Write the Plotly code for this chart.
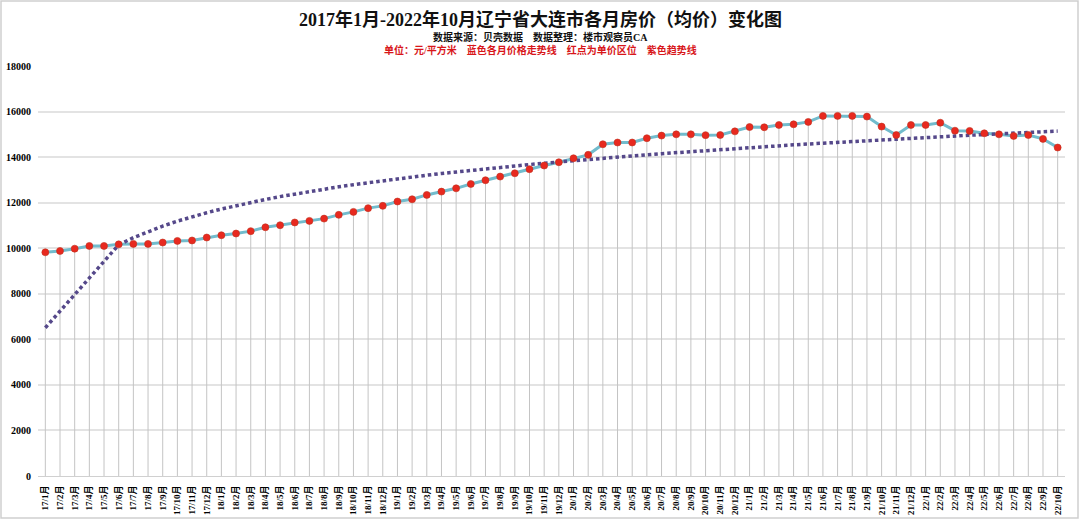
import numpy as np
import plotly.graph_objects as go

months = []
for y in range(17, 23):
    for m in range(1, 13):
        if y == 22 and m > 10:
            break
        months.append(f"{y}/{m}月")

prices = [
    9820, 9880, 9980, 10100, 10100, 10170, 10190, 10190, 10250, 10320,
    10340, 10470, 10570, 10645, 10750, 10920, 11010, 11130, 11200, 11300,
    11465, 11595, 11760, 11860, 12050, 12150, 12340, 12485, 12630, 12820,
    12985, 13145, 13290, 13470, 13630, 13775, 13950, 14100, 14565, 14640,
    14640, 14830, 14945, 15000, 15000, 14965, 14970, 15130, 15320, 15310,
    15410, 15440, 15545, 15810, 15810, 15810, 15780, 15340, 14970, 15410,
    15410, 15510, 15160, 15150, 15045, 15000, 14930, 14970, 14800, 14420,
]

y_ticks = [0, 2000, 4000, 6000, 8000, 10000, 12000, 14000, 16000, 18000]

idx = np.arange(len(prices))
# logarithmic trend line fitted from the data (as in the original spreadsheet);
# the spreadsheet draws it from a coarse first sample, then per category
b, a = np.polyfit(np.log(idx + 1), np.array(prices, dtype=float), 1)
trend_x = np.concatenate([[0], idx[5:]])
trend_y = a + b * np.log(trend_x + 1)

fig = go.Figure()

# drop lines from each point to the axis
fig.add_trace(go.Scatter(
    x=idx, y=prices, mode="markers",
    marker=dict(size=1, color="rgba(0,0,0,0)"),
    error_y=dict(type="data", symmetric=False, array=[0] * len(prices),
                 arrayminus=prices, color="#c4c4c4", thickness=1, width=0),
    hoverinfo="skip", showlegend=False,
))

fig.add_trace(go.Scatter(
    x=idx, y=prices, mode="lines",
    line=dict(color="#72bccd", width=3),
    showlegend=False,
))

fig.add_trace(go.Scatter(
    x=trend_x, y=trend_y, mode="lines",
    line=dict(color="#55488a", width=3.5, dash="3.5px,3px"),
    showlegend=False,
))

fig.add_trace(go.Scatter(
    x=idx, y=prices, mode="markers",
    marker=dict(size=7, color="#e8291f", line=dict(color="#c0301f", width=0.6)),
    showlegend=False,
))

L, R, T, B = 38, 15, 66, 44
W, H = 1080, 520
pw, ph = W - L - R, H - T - B

anns = [
    ("<b>2017年1月-2022年10月辽宁省大连市各月房价（均价）变化图</b>", 20, 18, "#111"),
    ("<b>数据来源：贝壳数据    数据整理：楼市观察员CA</b>", 37, 10, "#111"),
    ("<b>单位：元/平方米    蓝色各月价格走势线    红点为单价区位    紫色趋势线</b>", 50, 10, "#d8161a"),
]

fig.update_layout(
    width=W, height=H,
    margin=dict(l=L, r=R, t=T, b=B),
    paper_bgcolor="white", plot_bgcolor="white",
    font=dict(family="Liberation Serif, Noto Sans CJK SC", color="black"),
    xaxis=dict(
        range=[-0.5, len(prices) - 0.5],
        tickmode="array", tickvals=idx, ticktext=[f"<b>{m}</b>" for m in months],
        tickangle=-90, showgrid=False, zeroline=False,
        tickfont=dict(size=9, family="Liberation Serif, Noto Sans CJK SC"),
        showline=True, linecolor="#d0d0d0", linewidth=1, ticks="",
        ticklabelstandoff=5, automargin=False,
    ),
    yaxis=dict(
        range=[0, 18000], tickmode="array", tickvals=y_ticks,
        ticktext=[f"<b>{v}</b>" for v in y_ticks],
        showgrid=True, gridcolor="#e3e3e3", gridwidth=1.5, zeroline=False,
        tickfont=dict(size=10, family="Liberation Serif"),
        showline=False, ticks="",
        ticklabelstandoff=6, automargin=False,
    ),
    annotations=[
        dict(text=t, x=(540 - L) / pw, y=(H - py - B) / ph,
             xref="paper", yref="paper", xanchor="center", yanchor="middle",
             showarrow=False,
             font=dict(size=s, family="Liberation Serif, Noto Sans CJK SC", color=c))
        for t, py, s, c in anns
    ],
    shapes=[
        dict(type="rect", xref="paper", yref="paper",
             x0=(1 - L) / pw, x1=(W - 2 - L) / pw,
             y0=-(B - 2) / ph, y1=(H - B - 1) / ph,
             line=dict(color="#cfcfcf", width=1.5), layer="below"),
    ],
)

fig.write_html("out.html")
